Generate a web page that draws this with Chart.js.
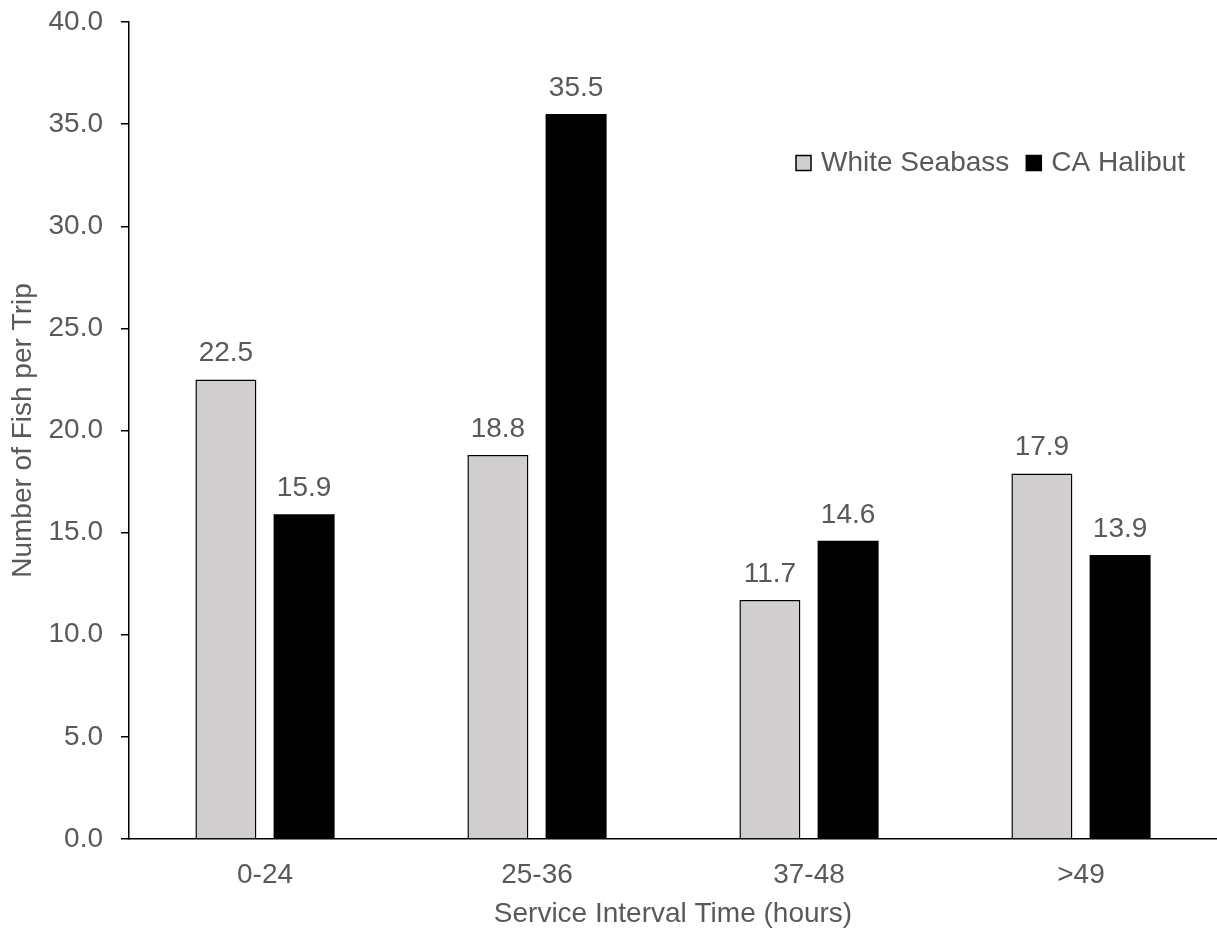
<!DOCTYPE html>
<html>
<head>
    <title>Fish per Trip</title>
    <script src="https://cdn.jsdelivr.net/npm/chart.js"></script>
    <style>
        body {
            margin: 0;
            background: #fff;
        }

        .chart-box {
            width: 1217px;
            height: 931px;
        }
    </style>
</head>
<body>
    <div class="chart-box">
        <canvas id="fishChart"></canvas>
    </div>

    <script>
const categories = ["0-24", "25-36", "37-48", ">49"];
const seabassValues = [22.5, 18.8, 11.7, 17.9];
const halibutValues = [15.9, 35.5, 14.6, 13.9];
const seriesNames = ["White Seabass", "CA Halibut"];
const yMin = 0;
const yMax = 40;
const yStep = 5;

const textColor = "#595959";
const fontFamily = "'Liberation Sans', Arial, sans-serif";
const fontSize = 28;

// value labels above each bar
const valueLabels = {
    id: "valueLabels",
    afterDatasetsDraw(chart) {
        const ctx = chart.ctx;
        ctx.save();
        ctx.font = fontSize + "px " + fontFamily;
        ctx.fillStyle = textColor;
        ctx.textAlign = "center";
        ctx.textBaseline = "alphabetic";
        chart.data.datasets.forEach((ds, i) => {
            chart.getDatasetMeta(i).data.forEach((bar, j) => {
                ctx.fillText(ds.data[j].toFixed(1), bar.x, bar.y - 18);
            });
        });
        ctx.restore();
    }
};

// legend drawn inside the plot, top right
const insideLegend = {
    id: "insideLegend",
    afterDraw(chart) {
        const ctx = chart.ctx;
        ctx.save();
        ctx.font = fontSize + "px " + fontFamily;
        ctx.textBaseline = "middle";
        let x = 796;
        const y = 163;
        chart.data.datasets.forEach(ds => {
            ctx.fillStyle = ds.backgroundColor;
            ctx.fillRect(x, y - 7.5, 15, 15);
            ctx.strokeStyle = "#000";
            ctx.lineWidth = 1.5;
            ctx.strokeRect(x, y - 7.5, 15, 15);
            ctx.fillStyle = textColor;
            ctx.fillText(ds.label, x + 25, y);
            x += 25 + ctx.measureText(ds.label).width + 17;
        });
        ctx.restore();
    }
};

new Chart(document.getElementById("fishChart"), {
    type: "bar",
    data: {
        labels: categories,
        datasets: [
            {
                label: seriesNames[0],
                data: seabassValues,
                backgroundColor: "#d0cece",
                borderColor: "#000",
                borderWidth: 1.5
            },
            {
                label: seriesNames[1],
                data: halibutValues,
                backgroundColor: "#000",
                borderColor: "#000",
                borderWidth: 0
            }
        ]
    },
    options: {
        responsive: true,
        maintainAspectRatio: false,
        animation: false,
        categoryPercentage: 0.575,
        barPercentage: 0.78,
        layout: {
            padding: { top: 22, right: 0, bottom: 0, left: 0 }
        },
        plugins: {
            legend: { display: false },
            tooltip: { enabled: false }
        },
        scales: {
            x: {
                grid: { display: false },
                border: { display: true, color: "#000", width: 1.5 },
                ticks: {
                    color: textColor,
                    font: { family: fontFamily, size: fontSize },
                    padding: 11,
                    maxRotation: 0
                },
                title: {
                    display: true,
                    text: "Service Interval Time (hours)",
                    color: textColor,
                    font: { family: fontFamily, size: fontSize },
                    padding: { top: 0, bottom: 0 }
                },
                afterFit(scale) {
                    scale.height = 92;
                    scale.paddingLeft = 0;
                    scale.paddingRight = 0;
                }
            },
            y: {
                min: yMin,
                max: yMax,
                grid: {
                    drawOnChartArea: false,
                    drawTicks: true,
                    tickLength: 8,
                    color: "#000",
                    lineWidth: 1.5
                },
                border: { display: true, color: "#000", width: 1.5 },
                ticks: {
                    stepSize: yStep,
                    color: textColor,
                    font: { family: fontFamily, size: fontSize },
                    padding: 18,
                    callback: v => v.toFixed(1)
                },
                title: {
                    display: true,
                    text: "Number of Fish per Trip",
                    color: textColor,
                    font: { family: fontFamily, size: fontSize },
                    padding: { top: 6, bottom: 0 }
                },
                afterFit(scale) {
                    scale.width = 129;
                    scale.paddingTop = 0;
                    scale.paddingBottom = 0;
                }
            }
        }
    },
    plugins: [valueLabels, insideLegend]
});
    </script>
</body>
</html>
